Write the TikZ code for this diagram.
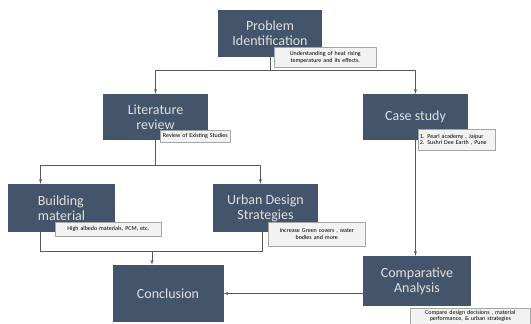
\documentclass[tikz,border=0pt]{standalone}
\usepackage{fontspec}
\setmainfont{Carlito}
\usepackage{tikz}
\usetikzlibrary{arrows}
\definecolor{boxblue}{HTML}{44546A}
\definecolor{notegray}{HTML}{F2F2F2}
\definecolor{linegray}{HTML}{595959}
\begin{document}
\begin{tikzpicture}[>=latex',line join=bevel,x=1pt,y=-1pt,
  stage/.style={fill=boxblue,text=white!88!black,align=center,inner sep=2pt,
    font=\fontsize{14}{15}\selectfont},
  note/.style={anchor=north west,fill=notegray,draw=gray!70,line width=0.6pt,
    inner sep=1.5pt,align=center,font=\fontsize{6}{6.6}\selectfont},
  link/.style={draw=linegray,line width=0.6pt}]

\useasboundingbox (0,0) rectangle (531,324);

% stages
\node[stage,minimum width=104pt,minimum height=47pt] (prob) at (270,33.5) {Problem\\Identification};
\node[stage,minimum width=105pt,minimum height=46pt] (lit) at (155.5,117) {Literature\\review};
\node[stage,minimum width=105pt,minimum height=46pt] (case) at (415.5,117) {Case study};
\node[stage,minimum width=107pt,minimum height=48pt,align=left] (build) at (61.5,208) {Building\\material};
\node[stage,minimum width=105pt,minimum height=48pt] (urban) at (265.5,208) {Urban Design\\Strategies};
\node[stage,minimum width=111pt,minimum height=57pt] (conc) at (168,293.5) {Conclusion};
\node[stage,minimum width=108pt,minimum height=50pt] (comp) at (417,281) {Comparative\\Analysis};

% junctions
\coordinate (split1) at (270,70);
\coordinate (split2) at (155.5,165);
\coordinate (join) at (152,251);

% connectors
\draw[link] (prob.south) -- (split1);
\draw[link,->] (split1) -| (lit.north);
\draw[link,->] (split1) -| (case.north);
\draw[link] (lit.south) -- (split2);
\draw[link,->] (split2) -| ([xshift=-21pt]build.north);
\draw[link,->] (split2) -| ([xshift=-5pt]urban.north);
\draw[link] ([xshift=-21pt]build.south) |- (join);
\draw[link] ([xshift=-3pt]urban.south) |- (join);
\draw[link,->] (join) -- (join |- conc.north);
\draw[link,->] (case.south) -- (case.south |- comp.north);
\draw[link,->] (conc.east -| comp.west) -- (conc.east);

% notes
\node[note,text width=99pt,minimum height=20pt] (probnote) at (274,47) {Understanding of heat rising\\temperature and its effects.};
\node[note,text width=67pt,minimum height=12pt] (litnote) at (160,130) {Review of Existing Studies};
\node[note,text width=74pt,minimum height=21pt,align=left] (casenote) at (418,129) {1. Pearl academy , Jaipur\\2. Sushri Dee Earth , Pune};
\node[note,text width=103pt,minimum height=14pt] (buildnote) at (55,222) {High albedo materials, PCM, etc.};
\node[note,text width=94pt,minimum height=24pt] (urbannote) at (268,222) {Increase Green covers , water\\bodies and more};
\node[note,text width=117pt,minimum height=16pt] (compnote) at (410,307.5) {Compare design decisions , material\\performance, \& urban strategies};

\end{tikzpicture}
\end{document}
